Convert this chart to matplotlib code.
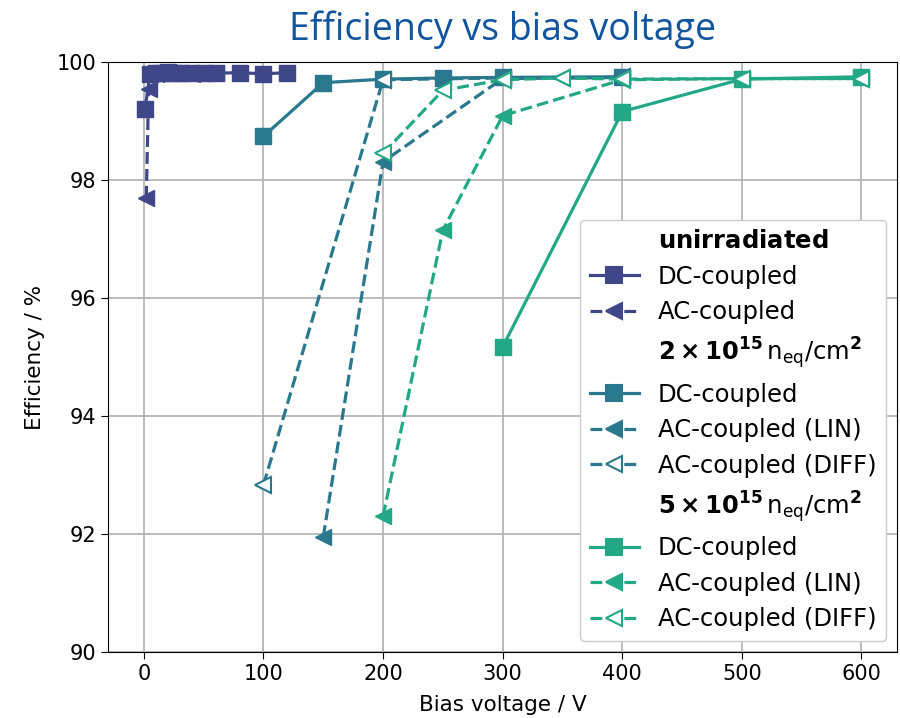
import numpy as np
import matplotlib
matplotlib.use("Agg")
import matplotlib.pyplot as plt
from matplotlib.lines import Line2D

# colours (viridis-like)
c_unirr = "#3f4788"
c_2e15 = "#2a788e"
c_5e15 = "#22a884"

# unirradiated
unirr_dc_v = [1, 5, 10, 15, 20, 25, 30, 40, 50, 60, 80, 100, 120]
unirr_dc_eff = [99.2, 99.79, 99.81, 99.82, 99.83, 99.82, 99.81, 99.82, 99.81, 99.81, 99.82, 99.8, 99.82]
unirr_ac_v = [2, 4, 10, 15, 20, 25, 30, 40, 50, 60]
unirr_ac_eff = [97.7, 99.55, 99.8, 99.82, 99.81, 99.82, 99.81, 99.8, 99.81, 99.81]

# 2e15 neq/cm2
irr2_dc_v = [100, 150, 200, 250, 300, 400]
irr2_dc_eff = [98.74, 99.65, 99.71, 99.73, 99.74, 99.75]
irr2_lin_v = [150, 200, 300, 400]
irr2_lin_eff = [91.95, 98.31, 99.72, 99.74]
irr2_diff_v = [100, 200, 300, 350, 400]
irr2_diff_eff = [92.83, 99.7, 99.73, 99.73, 99.74]

# 5e15 neq/cm2
irr5_dc_v = [300, 400, 500, 600]
irr5_dc_eff = [95.17, 99.16, 99.71, 99.75]
irr5_lin_v = [200, 250, 300, 400, 500, 600]
irr5_lin_eff = [92.3, 97.15, 99.09, 99.7, 99.72, 99.72]
irr5_diff_v = [200, 250, 300, 350, 400, 500, 600]
irr5_diff_eff = [98.45, 99.52, 99.7, 99.73, 99.71, 99.72, 99.72]

plt.rcParams["font.family"] = "DejaVu Sans"
fig = plt.figure(figsize=(9, 7.18), dpi=100)
ax = fig.add_axes([0.12, 0.092, 0.877, 0.8216])

lw = 2.3
ms = 11
ax.plot(unirr_dc_v, unirr_dc_eff, "-s", color=c_unirr, lw=lw, ms=ms)
ax.plot(unirr_ac_v, unirr_ac_eff, "--<", color=c_unirr, lw=lw, ms=ms)

ax.plot(irr2_dc_v, irr2_dc_eff, "-s", color=c_2e15, lw=lw, ms=ms)
ax.plot(irr2_lin_v, irr2_lin_eff, "--<", color=c_2e15, lw=lw, ms=ms)
ax.plot(irr2_diff_v, irr2_diff_eff, "--<", color=c_2e15, lw=lw, ms=ms,
        mfc="white", mew=1.5)

ax.plot(irr5_dc_v, irr5_dc_eff, "-s", color=c_5e15, lw=lw, ms=ms)
ax.plot(irr5_lin_v, irr5_lin_eff, "--<", color=c_5e15, lw=lw, ms=ms)
ax.plot(irr5_diff_v, irr5_diff_eff, "--<", color=c_5e15, lw=lw, ms=ms,
        mfc="white", mew=1.5)

ax.set_xlim(-30, 630)
ax.set_ylim(90, 100)
ax.set_yticks([90, 92, 94, 96, 98, 100])
ax.set_xticks([0, 100, 200, 300, 400, 500, 600])
ax.grid(True, color="#b0b0b0", lw=1.2)
ax.set_axisbelow(True)
ax.tick_params(labelsize=15, length=5)
ax.set_xlabel("Bias voltage / V", fontsize=15.5, labelpad=8)
ax.set_ylabel("Efficiency / %", fontsize=15.5, labelpad=8)
ax.set_title("Efficiency vs bias voltage", fontsize=27, pad=16,
             color="#12559f", fontfamily="Open Sans")

blank = Line2D([], [], linestyle="none", marker="none")
def h(color, ls, marker, filled=True):
    return Line2D([], [], color=color, ls=ls, marker=marker, lw=lw, ms=ms,
                  mfc=color if filled else "white", mew=1.5)

handles = [blank, h(c_unirr, "-", "s"), h(c_unirr, "--", "<"),
           blank, h(c_2e15, "-", "s"), h(c_2e15, "--", "<"), h(c_2e15, "--", "<", False),
           blank, h(c_5e15, "-", "s"), h(c_5e15, "--", "<"), h(c_5e15, "--", "<", False)]
labels = [r"$\bf{unirradiated}$", "DC-coupled", "AC-coupled",
          r"$\mathbf{2\times10^{15}}\,\mathrm{n_{eq}/cm^{\mathbf{2}}}$",
          "DC-coupled", "AC-coupled (LIN)", "AC-coupled (DIFF)",
          r"$\mathbf{5\times10^{15}}\,\mathrm{n_{eq}/cm^{\mathbf{2}}}$",
          "DC-coupled", "AC-coupled (LIN)", "AC-coupled (DIFF)"]
leg = ax.legend(handles, labels, loc="lower right", fontsize=17.5, framealpha=1,
                handlelength=2.0, borderaxespad=0.45, labelspacing=0.47)

fig.savefig("out.png", dpi=100)
